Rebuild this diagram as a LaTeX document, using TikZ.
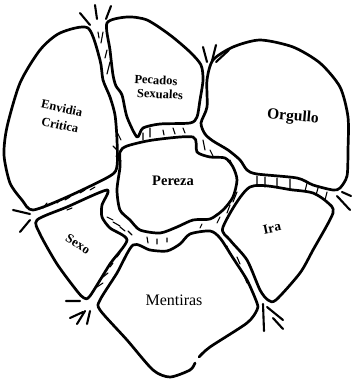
\documentclass[tikz,border=0pt]{standalone}
\usepackage{fontspec}
\setmainfont{Liberation Serif}
\begin{document}
\begin{tikzpicture}[x=1pt,y=-1pt,
  region/.style={line width=2.7pt, line join=round, line cap=round},
  hatch/.style={line width=1.1pt, line cap=round},
  sprout/.style={line width=2.1pt, line cap=round},
  lab/.style={inner sep=0pt, font=\bfseries}]
\useasboundingbox (0,0) rectangle (351,382);
% Envidia Critica
\draw[region] plot[smooth cycle, tension=0.45] coordinates {(88,28) (60,33) (40,50) (20,83) (7,127) (4,155) (10,183) (22,200) (33,210) (67,197) (110,176) (117,166) (117,140) (115,115) (110,97) (103,80) (100,60)};
% Pecados Sexuales
\draw[region] plot[smooth cycle, tension=0.45] coordinates {(107,23) (127,17) (147,20) (170,35) (190,52) (201,65) (203,80) (200,100) (197,117) (190,123) (160,124) (143,128) (137,137) (127,117) (122,95) (116,86) (113,75) (110,50)};
% Orgullo
\draw[region] plot[smooth cycle, tension=0.45] coordinates {(213,60) (233,47) (260,40) (293,47) (320,63) (340,87) (348,117) (348,150) (347,176) (340,188) (333,190) (313,185) (297,178) (257,174) (247,170) (240,160) (228,150) (213,141) (205,134) (201,123) (207,107) (207,80)};
% Pereza
\draw[region] plot[smooth cycle, tension=0.45] coordinates {(120,152) (127,146) (153,140) (193,137) (197,152) (210,157) (225,158) (233,167) (237,180) (233,197) (223,210) (210,219) (193,220) (177,227) (160,233) (140,230) (130,220) (120,210) (117,190) (120,167)};
% Sexo
\draw[region] plot[smooth cycle, tension=0.45] coordinates {(37,220) (67,207) (107,190) (102,205) (102,217) (110,228) (127,240) (110,264) (90,296) (84,298) (77,291) (57,264) (40,234)};
% Mentiras
\draw[region] plot[smooth, tension=0.45] coordinates {(199,357) (210,347) (247,323) (257,310) (257,303) (247,280) (233,258) (220,238) (210,231) (190,234) (180,244) (167,251) (150,250) (133,245) (117,273) (100,300) (100,310) (127,340) (153,370) (170,377) (190,370) (195,363)};
% Ira
\draw[region] plot[smooth cycle, tension=0.45] coordinates {(250,187) (293,190) (313,193) (327,202) (333,213) (313,250) (300,273) (276,300) (268,300) (260,290) (247,260) (230,240) (223,227)};
% sprouts at the channel mouths
\draw[sprout] (80,13) -- (90,25) (95,5) -- (97,19) (111,6) -- (106,19);
\draw[sprout] (203,47) -- (207,62) (216,45) -- (212,61) (229,50) -- (216,62);
\draw[sprout] (337,196) -- (350,210) (342,192) -- (351,196);
\draw[sprout] (13,210) -- (30,214) (20,232) -- (30,220);
\draw[sprout] (66,301) -- (80,301) (70,318) -- (83,312) (77,324) -- (85,311) (87,324) -- (90,311);
\draw[sprout] (263,304) -- (264,331) (267,307) -- (283,320) (273,318) -- (283,329);
% hatching in the channels
\draw[hatch] (98,32) -- (99,38) (103,32) -- (101,43) (107,50) -- (105,58) (110,62) -- (107,74) (117,132) -- (121,140) (113,146) -- (118,151) (116,156) -- (121,161);
\draw[hatch] (143,133) -- (143,140) (150,128) -- (150,137) (163,130) -- (164,135) (173,128) -- (175,134) (183,128) -- (185,133);
\draw[hatch] (203,140) -- (205,150) (230,160) -- (233,167) (210,150) -- (213,156);
\draw[hatch] (257,176) -- (257,186) (265,177) -- (265,187) (277,178) -- (277,188) (290,179) -- (290,189) (307,183) -- (305,191) (318,188) -- (316,195) (327,192) -- (325,200);
\draw[hatch] (237,192) -- (233,202) (230,205) -- (227,213) (220,217) -- (217,223) (227,246) -- (229,253) (237,257) -- (240,264) (243,273) -- (247,283);
\draw[hatch] (43,208) -- (47,203) (57,203) -- (60,200) (65,200) -- (70,197) (80,193) -- (85,190) (90,190) -- (95,187) (67,210) -- (72,208);
\draw[hatch] (107,217) -- (113,220) (113,222) -- (120,226) (120,227) -- (125,231) (128,231) -- (132,235) (147,237) -- (148,243) (157,239) -- (157,244) (167,238) -- (167,242) (200,228) -- (202,224) (213,218) -- (217,214);
\draw[hatch] (117,257) -- (120,253) (110,267) -- (113,263) (103,277) -- (108,273) (97,287) -- (103,283);
% labels
\node[lab, font=\bfseries\fontsize{12.5}{13}\selectfont, rotate=-12] (envidia) at (62,108) {Envidia};
\node[lab, font=\bfseries\fontsize{12.5}{13}\selectfont, rotate=-12] (critica) at (60,125) {Critica};
\node[lab, font=\bfseries\fontsize{12.5}{13}\selectfont, rotate=-3] (pecados) at (156,80) {Pecados};
\node[lab, font=\bfseries\fontsize{12.5}{13}\selectfont, rotate=-3] (sexuales) at (160,94) {Sexuales};
\node[lab, font=\bfseries\fontsize{15.5}{16}\selectfont, rotate=-5] (orgullo) at (293,117) {Orgullo};
\node[lab, font=\bfseries\fontsize{14.5}{15}\selectfont] (pereza) at (173,181) {Pereza};
\node[lab, font=\bfseries\fontsize{13.5}{14}\selectfont, rotate=12] (ira) at (272,228) {Ira};
\node[lab, font=\bfseries\fontsize{13}{14}\selectfont, rotate=-32] (sexo) at (78,244) {Sexo};
\node[lab, font=\fontsize{16}{17}\selectfont] (mentiras) at (174,300) {Mentiras};
\end{tikzpicture}
\end{document}
